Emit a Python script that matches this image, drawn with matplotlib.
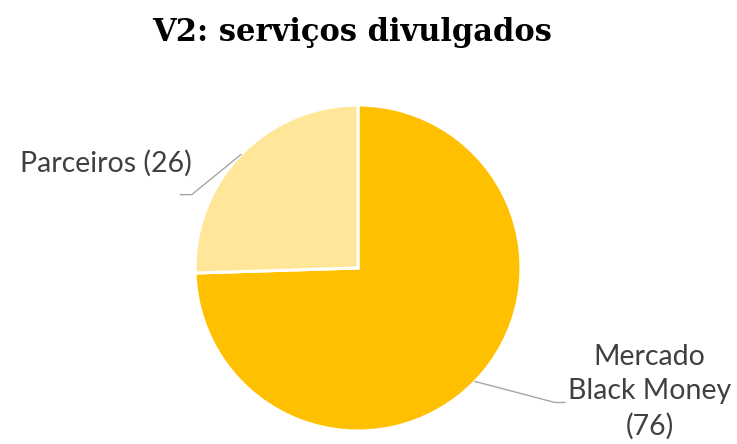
import numpy as np
import matplotlib.pyplot as plt

# Data
labels = ['Mercado\nBlack Money\n(76)', 'Parceiros (26)']
values = [76, 26]
colors = ['#FFC000', '#FFE699']
title = 'V2: serviços divulgados'

W, H = 737, 444
fig = plt.figure(figsize=(W / 100, H / 100), dpi=100)

# pie placed by pixel: centre (358, 268 from top), radius 163
cx, cy, r = 358, H - 268, 163
ax = fig.add_axes([(cx - r) / W, (cy - r) / H, 2 * r / W, 2 * r / H])
wedges, _ = ax.pie(values, colors=colors, startangle=90, counterclock=False,
                   wedgeprops=dict(edgecolor='white', linewidth=2.2))
ax.set_xlim(-1, 1)
ax.set_ylim(-1, 1)
ax.set_aspect('equal')
ax.axis('off')

# leader lines + labels
line_col = '#A6A6A6'
txt_col = '#404040'
label_font = 'Lato'

# Mercado
w = wedges[0]
ang = np.deg2rad((w.theta1 + w.theta2) / 2)
p0 = (np.cos(ang), np.sin(ang))
elbow = (1.208, -0.825)
end = (1.27, -0.825)
ax.plot([p0[0], elbow[0], end[0]], [p0[1], elbow[1], end[1]],
        color=line_col, lw=1, clip_on=False)
ax.text(1.79, -0.76, labels[0], ha='center', va='center', fontsize=20.5,
        family=label_font, color=txt_col, linespacing=1.38, clip_on=False)

# Parceiros
w = wedges[1]
ang = np.deg2rad((w.theta1 + w.theta2) / 2)
p0 = (np.cos(ang), np.sin(ang))
elbow = (-1.02, 0.45)
end = (-1.09, 0.45)
ax.plot([p0[0], elbow[0], end[0]], [p0[1], elbow[1], end[1]],
        color=line_col, lw=1, clip_on=False)
ax.text(-1.02, 0.64, labels[1], ha='right', va='center', fontsize=20.5,
        family=label_font, color=txt_col, clip_on=False)

fig.text(352 / W, 1 - 32 / H, title, ha='center', va='center', fontsize=22,
         family='DejaVu Serif', fontweight='bold', color='black')

fig.savefig('out.png', dpi=100, facecolor='white')
